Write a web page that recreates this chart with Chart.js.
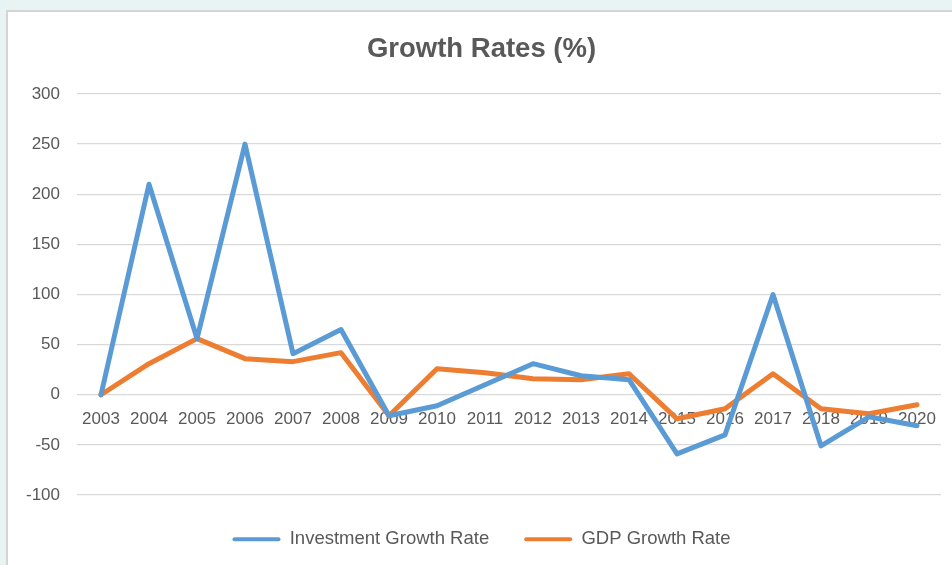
<!DOCTYPE html>
<html>
<head>
<meta charset="utf-8">
<script src="https://cdn.jsdelivr.net/npm/chart.js@4/dist/chart.umd.min.js"></script>
<style>
  html, body { margin: 0; padding: 0; width: 952px; height: 565px; overflow: hidden; background: #e8f4f4; }
  #card { position: absolute; left: 6px; top: 10px; width: 960px; height: 570px; background: #ffffff; border: 2px solid #d4d4d4; box-sizing: border-box; }
  #wrap { position: absolute; left: 0; top: 0; width: 952px; height: 565px; }
</style>
</head>
<body>
<div id="card"></div>
<div id="wrap"><canvas id="c" width="952" height="565"></canvas></div>
<script>
const years = ["2003","2004","2005","2006","2007","2008","2009","2010","2011","2012","2013","2014","2015","2016","2017","2018","2019","2020"];
const investmentGrowth = [0, 210, 56, 250, 41, 65, -21, -11, 10, 31, 19, 15, -59, -40, 100, -51, -22, -31];
const gdpGrowth = [0, 31, 56, 36, 33, 42, -21, 26, 22, 16, 15, 21, -24, -14, 21, -14, -19, -10];
const yTicks = [-100, -50, 0, 50, 100, 150, 200, 250, 300];
const seriesNames = ["Investment Growth Rate", "GDP Growth Rate"];

const textColor = "#595959";
const fontFamily = "'Liberation Sans', Arial, sans-serif";

new Chart(document.getElementById("c"), {
  type: "line",
  data: {
    labels: years,
    datasets: [
      { label: seriesNames[0], data: investmentGrowth, borderColor: "#5b9bd5", backgroundColor: "#5b9bd5", borderWidth: 5, pointRadius: 0, tension: 0, borderJoinStyle: "round", borderCapStyle: "round" },
      { label: seriesNames[1], data: gdpGrowth, borderColor: "#ed7d31", backgroundColor: "#ed7d31", borderWidth: 5, pointRadius: 0, tension: 0, borderJoinStyle: "round", borderCapStyle: "round" }
    ]
  },
  options: {
    responsive: false,
    animation: false,
    layout: { padding: { left: 22, right: 11, top: 0, bottom: 6.5 } },
    plugins: {
      title: {
        display: true,
        text: "Growth Rates (%)",
        color: textColor,
        font: { family: fontFamily, size: 27.5, weight: "bold" },
        padding: { top: 33, bottom: 28 }
      },
      legend: {
        position: "bottom",
        labels: {
          color: textColor,
          font: { family: fontFamily, size: 18.5 },
          boxWidth: 48,
          boxHeight: 4,
          padding: 35,
          generateLabels: (chart) => Chart.defaults.plugins.legend.labels.generateLabels(chart).map(l => Object.assign(l, { lineWidth: 0, fillStyle: l.strokeStyle, borderRadius: 2 }))
        }
      },
      tooltip: { enabled: false }
    },
    scales: {
      x: {
        type: "category",
        offset: true,
        position: { y: 0 },
        grid: { display: false, drawTicks: false },
        border: { display: false },
        ticks: { color: textColor, font: { family: fontFamily, size: 17 }, padding: 14, maxRotation: 0, autoSkip: false }
      },
      y: {
        min: -100,
        max: 300,
        afterBuildTicks: (axis) => { axis.ticks = yTicks.map(v => ({ value: v })); },
        afterFit: (axis) => { axis.width = 55; },
        grid: { color: "#d9d9d9", lineWidth: 1.3, drawTicks: false },
        border: { display: false },
        ticks: { color: textColor, font: { family: fontFamily, size: 17 }, padding: 17 }
      }
    }
  }
});
</script>
</body>
</html>
